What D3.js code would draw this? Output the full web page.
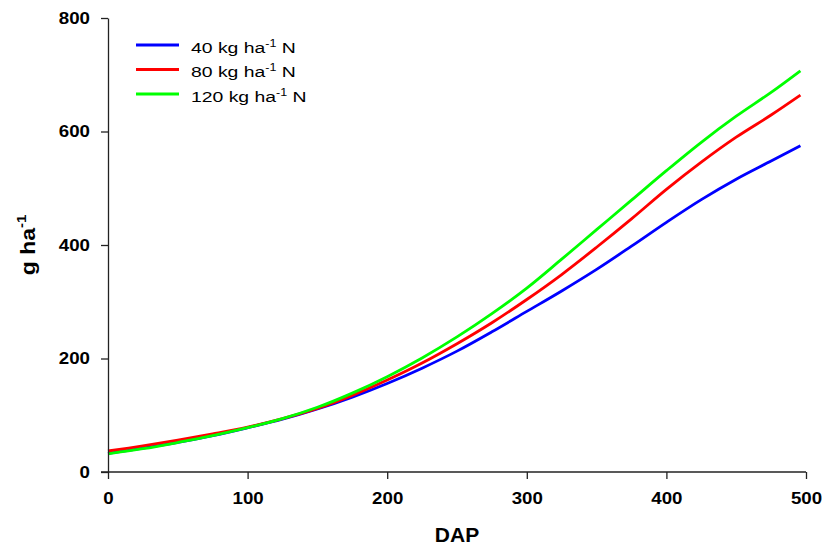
<!DOCTYPE html>
<html>
<head>
<meta charset="utf-8">
<script src="https://cdn.jsdelivr.net/npm/d3@7"></script>
<style>
  body { margin: 0; background: #fff; }
  svg { font-family: "Liberation Sans", Arial, sans-serif; }
</style>
</head>
<body>
<div id="wrapper"></div>
<script>
// Data (days after planting vs g ha-1)
const days = [0, 25, 50, 75, 100, 125, 150, 175, 200, 225, 250, 275, 300, 325, 350, 375, 400, 425, 450, 475, 496]
const n40 = [33, 42, 52, 64, 78, 93, 111, 132, 156, 183, 213, 247, 283, 319, 357, 398, 440, 480, 516, 548, 575]
const n80 = [37, 46, 56, 67, 79, 94, 112, 135, 162, 192, 226, 263, 304, 348, 396, 446, 498, 546, 590, 629, 664]
const n120 = [32, 41, 52, 64, 78, 94, 114, 139, 168, 201, 238, 279, 324, 375, 427, 479, 531, 581, 627, 669, 707]
const seriesNames = ["40", "80", "120"]
const seriesColors = ["#0000ff", "#ff0000", "#00ff00"]
const xTicks = [0, 100, 200, 300, 400, 500]
const yTicks = [0, 200, 400, 600, 800]

const series = [n40, n80, n120].map((vals, i) => ({
  name: seriesNames[i],
  color: seriesColors[i],
  points: days.map((d, j) => ({ x: d, y: vals[j] }))
}))

// Dimensions
let dimensions = {
  width: 823,
  height: 546,
  margin: { top: 18, right: 17, bottom: 74, left: 108 },
}
dimensions.boundedWidth = dimensions.width - dimensions.margin.left - dimensions.margin.right
dimensions.boundedHeight = dimensions.height - dimensions.margin.top - dimensions.margin.bottom

const wrapper = d3.select("#wrapper")
  .append("svg")
  .attr("width", dimensions.width)
  .attr("height", dimensions.height)

const bounds = wrapper.append("g")
  .attr("transform", `translate(${dimensions.margin.left}, ${dimensions.margin.top})`)

// Scales
const xScale = d3.scaleLinear()
  .domain([0, 500])
  .range([0, 698])

const yScale = d3.scaleLinear()
  .domain([0, 800])
  .range([dimensions.boundedHeight, 0])

// Lines
const lineGenerator = d3.line()
  .x(d => xScale(d.x))
  .y(d => yScale(d.y))
  .curve(d3.curveCatmullRom.alpha(0.5))

bounds.selectAll(".series")
  .data(series)
  .enter().append("path")
  .attr("class", "series")
  .attr("d", d => lineGenerator(d.points))
  .attr("fill", "none")
  .attr("stroke", d => d.color)
  .attr("stroke-width", 2.8)

// Axes
const xAxisGenerator = d3.axisBottom(xScale)
  .tickValues(xTicks)
  .tickSize(7)
  .tickSizeOuter(0)
  .tickPadding(13)

const xAxis = bounds.append("g")
  .attr("transform", `translate(0, ${dimensions.boundedHeight})`)
  .call(xAxisGenerator)

const yAxisGenerator = d3.axisLeft(yScale)
  .tickValues(yTicks)
  .tickSize(7)
  .tickSizeOuter(0)
  .tickPadding(9.4)

const yAxis = bounds.append("g")
  .call(yAxisGenerator)

// extend x axis line left to meet y tick at 0
xAxis.select(".domain").attr("d", `M-7,0H${xScale(500)}`)

bounds.selectAll(".domain, .tick line")
  .attr("stroke", "#222")
  .attr("stroke-width", 1.3)

// the original tick labels are a bit wide, so stretch them
bounds.selectAll(".tick text")
  .attr("fill", "#000")
  .attr("transform", "scale(1.1,1)")
  .style("font-size", "17px")
  .style("font-weight", "bold")
  .style("font-family", "'Liberation Sans', Arial, sans-serif")

// Axis labels
wrapper.append("text")
  .attr("x", dimensions.margin.left + xScale(250))
  .attr("y", 542)
  .attr("text-anchor", "middle")
  .style("font-size", "21px")
  .style("font-weight", "bold")
  .attr("fill", "#000")
  .text("DAP")

const yLabel = wrapper.append("text")
  .attr("transform", `translate(35, ${dimensions.margin.top + yScale(400)}) rotate(-90) scale(1.15,1)`)
  .attr("text-anchor", "middle")
  .style("font-size", "20px")
  .style("font-weight", "bold")
  .attr("fill", "#000")
yLabel.append("tspan").text("g ha")
yLabel.append("tspan").attr("dy", -9).style("font-size", "13px").text("-1")

// Legend
const legend = wrapper.append("g")
  .attr("transform", "translate(136, 45)")

const legendItems = legend.selectAll(".legend-item")
  .data(series)
  .enter().append("g")
  .attr("class", "legend-item")
  .attr("transform", (d, i) => `translate(0, ${i * 24.5})`)

legendItems.append("line")
  .attr("x1", 0)
  .attr("x2", 43)
  .attr("stroke", d => d.color)
  .attr("stroke-width", 2.8)

const legendText = legendItems.append("text")
  .attr("transform", "translate(55, 7.5) scale(1.25,1)")
  .style("font-size", "15.5px")
  .attr("fill", "#000")

legendText.append("tspan").text(d => `${d.name} kg ha`)
legendText.append("tspan").attr("dy", -6).style("font-size", "10px").text("-1")
legendText.append("tspan").attr("dy", 6).text(" N")
</script>
</body>
</html>
